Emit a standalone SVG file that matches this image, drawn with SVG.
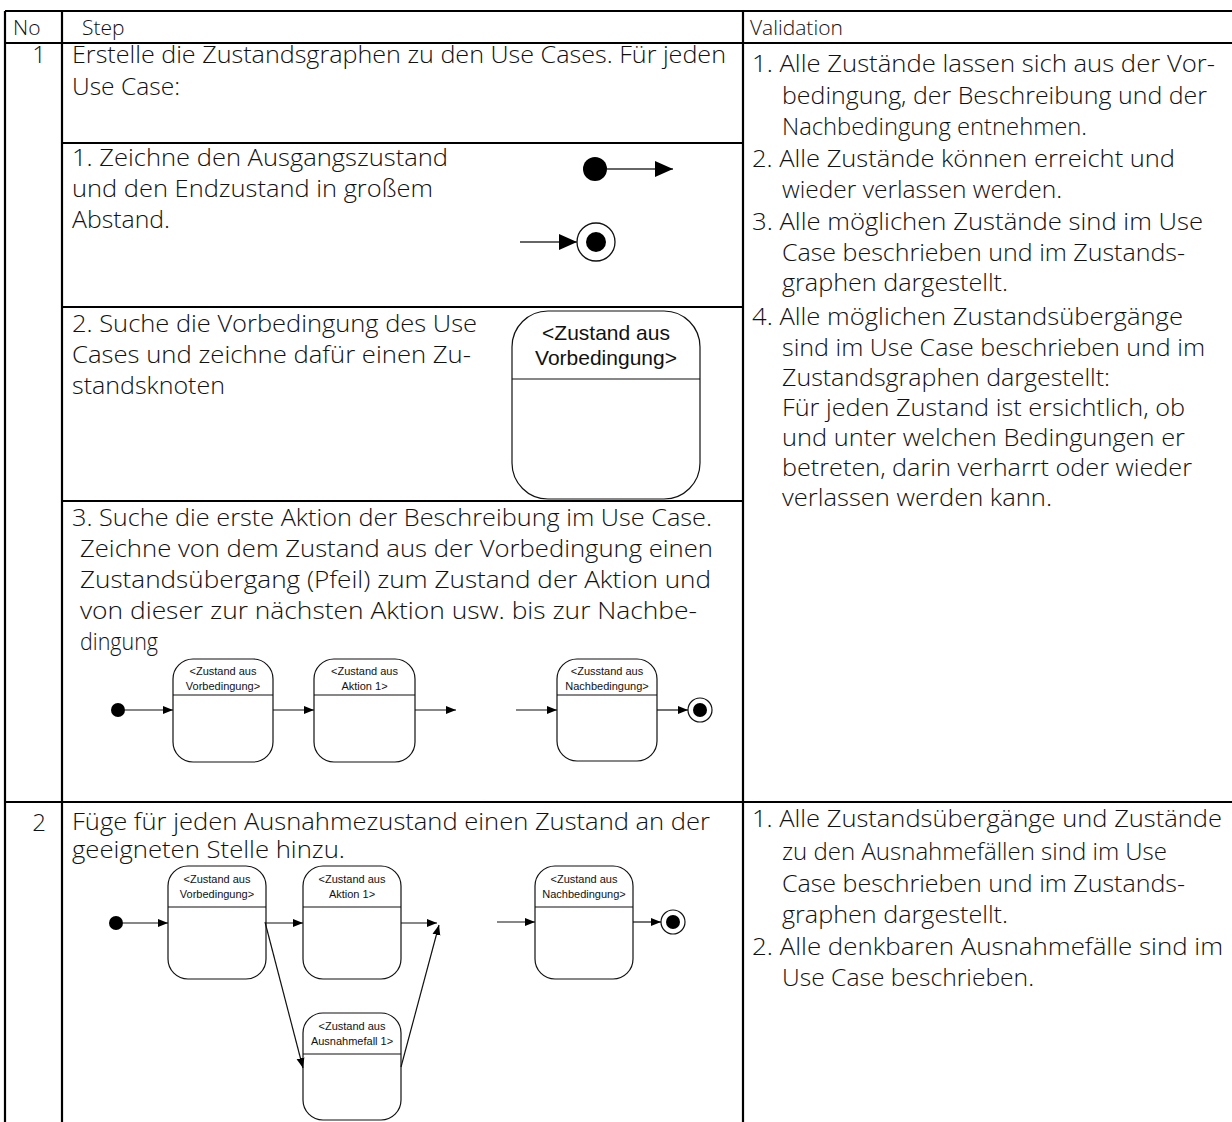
<svg xmlns="http://www.w3.org/2000/svg" width="1232" height="1122" viewBox="0 0 1232 1122">
<style>
.grid{stroke:#000;stroke-width:2.2;fill:none}
.t{font-family:"Open Sans",Lato,"DejaVu Sans",sans-serif;font-size:24px;fill:#111;font-weight:300}
.h{font-family:"Open Sans",Lato,"DejaVu Sans",sans-serif;font-size:21px;fill:#111;font-weight:300}
.st{fill:#fff;stroke:#111;stroke-width:1.2}
.dv{stroke:#111;stroke-width:1.2}
.n{font-family:"Liberation Sans",Arial,sans-serif;font-size:11px;fill:#111;text-anchor:middle}
.nb{font-family:"Liberation Sans",Arial,sans-serif;font-size:21px;fill:#111;text-anchor:middle}
.c{stroke:#111;stroke-width:1.2;fill:none}
.cb{stroke:#333;stroke-width:1.5;fill:none}
</style>
<defs>
<marker id="a" markerUnits="userSpaceOnUse" markerWidth="10" markerHeight="10" viewBox="0 0 10 10" refX="10" refY="5" orient="auto"><path d="M0,1 L10,5 L0,9 Z" fill="#000"/></marker>
<marker id="A" markerUnits="userSpaceOnUse" markerWidth="18" markerHeight="18" viewBox="0 0 18 18" refX="18" refY="9" orient="auto"><path d="M0,1 L18,9 L0,17 Z" fill="#000"/></marker>
</defs>
<rect width="1232" height="1122" fill="#fff"/>
<g id="table">
<line class="grid" x1="5" y1="11" x2="1232" y2="11"/>
<line class="grid" x1="5" y1="43" x2="1232" y2="43"/>
<line class="grid" x1="5" y1="11" x2="5" y2="1122"/>
<line class="grid" x1="62" y1="11" x2="62" y2="1122"/>
<line class="grid" x1="743" y1="11" x2="743" y2="1122"/>
<line class="grid" x1="62" y1="143" x2="743" y2="143"/>
<line class="grid" x1="62" y1="307" x2="743" y2="307"/>
<line class="grid" x1="62" y1="501" x2="743" y2="501"/>
<line class="grid" x1="5" y1="802" x2="1232" y2="802"/>
</g>
<g id="header">
<text class="h" x="13" y="35">No</text>
<text class="h" x="82" y="35">Step</text>
<text class="h" x="750" y="35">Validation</text>
</g>
<g id="row1-step">
<text class="t" x="39" y="63" text-anchor="middle">1</text>
<text class="t" x="72" y="63" textLength="654" lengthAdjust="spacingAndGlyphs">Erstelle die Zustandsgraphen zu den Use Cases. Für jeden</text>
<text class="t" x="72" y="95" textLength="108" lengthAdjust="spacingAndGlyphs">Use Case:</text>
<text class="t" x="72" y="166" textLength="376" lengthAdjust="spacingAndGlyphs">1. Zeichne den Ausgangszustand</text>
<text class="t" x="72" y="197" textLength="361" lengthAdjust="spacingAndGlyphs">und den Endzustand in großem</text>
<text class="t" x="72" y="228" textLength="98" lengthAdjust="spacingAndGlyphs">Abstand.</text>
<text class="t" x="72" y="332" textLength="405" lengthAdjust="spacingAndGlyphs">2. Suche die Vorbedingung des Use</text>
<text class="t" x="72" y="363" textLength="399" lengthAdjust="spacingAndGlyphs">Cases und zeichne dafür einen Zu-</text>
<text class="t" x="72" y="394" textLength="153" lengthAdjust="spacingAndGlyphs">standsknoten</text>
<text class="t" x="72" y="526" textLength="640" lengthAdjust="spacingAndGlyphs">3. Suche die erste Aktion der Beschreibung im Use Case.</text>
<text class="t" x="80" y="557" textLength="633" lengthAdjust="spacingAndGlyphs">Zeichne von dem Zustand aus der Vorbedingung einen</text>
<text class="t" x="80" y="588" textLength="631" lengthAdjust="spacingAndGlyphs">Zustandsübergang (Pfeil) zum Zustand der Aktion und</text>
<text class="t" x="80" y="619" textLength="617" lengthAdjust="spacingAndGlyphs">von dieser zur nächsten Aktion usw. bis zur Nachbe-</text>
<text class="t" x="80" y="650" textLength="78" lengthAdjust="spacingAndGlyphs">dingung</text>
</g>
<g id="row1-validation">
<text class="t" x="752" y="72" textLength="463" lengthAdjust="spacingAndGlyphs">1. Alle Zustände lassen sich aus der Vor-</text>
<text class="t" x="782" y="104" textLength="425" lengthAdjust="spacingAndGlyphs">bedingung, der Beschreibung und der</text>
<text class="t" x="782" y="135" textLength="305" lengthAdjust="spacingAndGlyphs">Nachbedingung entnehmen.</text>
<text class="t" x="752" y="167" textLength="423" lengthAdjust="spacingAndGlyphs">2. Alle Zustände können erreicht und</text>
<text class="t" x="782" y="198" textLength="280" lengthAdjust="spacingAndGlyphs">wieder verlassen werden.</text>
<text class="t" x="752" y="230" textLength="451" lengthAdjust="spacingAndGlyphs">3. Alle möglichen Zustände sind im Use</text>
<text class="t" x="782" y="261" textLength="403" lengthAdjust="spacingAndGlyphs">Case beschrieben und im Zustands-</text>
<text class="t" x="782" y="291" textLength="226" lengthAdjust="spacingAndGlyphs">graphen dargestellt.</text>
<text class="t" x="752" y="325" textLength="431" lengthAdjust="spacingAndGlyphs">4. Alle möglichen Zustandsübergänge</text>
<text class="t" x="782" y="356" textLength="423" lengthAdjust="spacingAndGlyphs">sind im Use Case beschrieben und im</text>
<text class="t" x="782" y="386" textLength="328" lengthAdjust="spacingAndGlyphs">Zustandsgraphen dargestellt:</text>
<text class="t" x="782" y="416" textLength="403" lengthAdjust="spacingAndGlyphs">Für jeden Zustand ist ersichtlich, ob</text>
<text class="t" x="782" y="446" textLength="403" lengthAdjust="spacingAndGlyphs">und unter welchen Bedingungen er</text>
<text class="t" x="782" y="476" textLength="410" lengthAdjust="spacingAndGlyphs">betreten, darin verharrt oder wieder</text>
<text class="t" x="782" y="506" textLength="270" lengthAdjust="spacingAndGlyphs">verlassen werden kann.</text>
</g>
<g id="row2-step">
<text class="t" x="39" y="831" text-anchor="middle">2</text>
<text class="t" x="72" y="830" textLength="638" lengthAdjust="spacingAndGlyphs">Füge für jeden Ausnahmezustand einen Zustand an der</text>
<text class="t" x="72" y="858" textLength="273" lengthAdjust="spacingAndGlyphs">geeigneten Stelle hinzu.</text>
</g>
<g id="row2-validation">
<text class="t" x="752" y="827" textLength="470" lengthAdjust="spacingAndGlyphs">1. Alle Zustandsübergänge und Zustände</text>
<text class="t" x="782" y="860" textLength="385" lengthAdjust="spacingAndGlyphs">zu den Ausnahmefällen sind im Use</text>
<text class="t" x="782" y="892" textLength="403" lengthAdjust="spacingAndGlyphs">Case beschrieben und im Zustands-</text>
<text class="t" x="782" y="923" textLength="226" lengthAdjust="spacingAndGlyphs">graphen dargestellt.</text>
<text class="t" x="752" y="955" textLength="471" lengthAdjust="spacingAndGlyphs">2. Alle denkbaren Ausnahmefälle sind im</text>
<text class="t" x="782" y="986" textLength="252" lengthAdjust="spacingAndGlyphs">Use Case beschrieben.</text>
</g>
<g id="legend-initial"><circle cx="595" cy="169" r="12" fill="#000"/></g>
<g id="legend-final"><circle cx="596" cy="242" r="19" fill="#fff" stroke="#111" stroke-width="1.3"/><circle cx="596" cy="242" r="10" fill="#000"/></g>
<g id="node-big"><rect class="st" x="512" y="311" width="188" height="188" rx="36"/><line class="dv" x1="512" y1="379" x2="700" y2="379"/><text class="nb" x="606" y="340">&lt;Zustand aus</text><text class="nb" x="606" y="365">Vorbedingung&gt;</text></g>
<g id="d1-initial"><circle cx="118" cy="710" r="7" fill="#000"/></g>
<g id="d1-vor"><rect class="st" x="173" y="659" width="100" height="103" rx="20"/><line class="dv" x1="173" y1="695" x2="273" y2="695"/><text class="n" x="223" y="675">&lt;Zustand aus</text><text class="n" x="223" y="690">Vorbedingung&gt;</text></g>
<g id="d1-akt"><rect class="st" x="314" y="659" width="101" height="103" rx="20"/><line class="dv" x1="314" y1="695" x2="415" y2="695"/><text class="n" x="364.5" y="675">&lt;Zustand aus</text><text class="n" x="364.5" y="690">Aktion 1&gt;</text></g>
<g id="d1-nach"><rect class="st" x="557" y="659" width="100" height="102" rx="20"/><line class="dv" x1="557" y1="695" x2="657" y2="695"/><text class="n" x="607" y="675">&lt;Zusstand aus</text><text class="n" x="607" y="690">Nachbedingung&gt;</text></g>
<g id="d1-final"><circle cx="700" cy="710" r="12" fill="#fff" stroke="#111" stroke-width="1.2"/><circle cx="700" cy="710" r="7" fill="#000"/></g>
<g id="d2-initial"><circle cx="116" cy="923" r="7" fill="#000"/></g>
<g id="d2-vor"><rect class="st" x="168" y="866" width="98" height="113" rx="20"/><line class="dv" x1="168" y1="907" x2="266" y2="907"/><text class="n" x="217" y="883">&lt;Zustand aus</text><text class="n" x="217" y="898">Vorbedingung&gt;</text></g>
<g id="d2-akt"><rect class="st" x="303" y="866" width="98" height="113" rx="20"/><line class="dv" x1="303" y1="907" x2="401" y2="907"/><text class="n" x="352" y="883">&lt;Zustand aus</text><text class="n" x="352" y="898">Aktion 1&gt;</text></g>
<g id="d2-nach"><rect class="st" x="535" y="866" width="98" height="113" rx="20"/><line class="dv" x1="535" y1="907" x2="633" y2="907"/><text class="n" x="584" y="883">&lt;Zustand aus</text><text class="n" x="584" y="898">Nachbedingung&gt;</text></g>
<g id="d2-ausn"><rect class="st" x="303" y="1013" width="98" height="107" rx="20"/><line class="dv" x1="303" y1="1054" x2="401" y2="1054"/><text class="n" x="352" y="1030">&lt;Zustand aus</text><text class="n" x="352" y="1045">Ausnahmefall 1&gt;</text></g>
<g id="d2-final"><circle cx="673" cy="922" r="12" fill="#fff" stroke="#111" stroke-width="1.2"/><circle cx="673" cy="922" r="7" fill="#000"/></g>
<g id="connectors">
<line class="cb" x1="607" y1="169" x2="673" y2="169" marker-end="url(#A)"/>
<line class="cb" x1="520" y1="242" x2="577" y2="242" marker-end="url(#A)"/>
<line class="c" x1="125" y1="710" x2="173" y2="710" marker-end="url(#a)"/>
<line class="c" x1="273" y1="710" x2="314" y2="710" marker-end="url(#a)"/>
<line class="c" x1="415" y1="710" x2="456" y2="710" marker-end="url(#a)"/>
<line class="c" x1="516" y1="710" x2="557" y2="710" marker-end="url(#a)"/>
<line class="c" x1="657" y1="710" x2="688" y2="710" marker-end="url(#a)"/>
<line class="c" x1="123" y1="923" x2="168" y2="923" marker-end="url(#a)"/>
<line class="c" x1="266" y1="923" x2="303" y2="923" marker-end="url(#a)"/>
<line class="c" x1="401" y1="923" x2="437" y2="923" marker-end="url(#a)"/>
<line class="c" x1="265" y1="922" x2="303" y2="1068" marker-end="url(#a)"/>
<line class="c" x1="401" y1="1067" x2="439" y2="925" marker-end="url(#a)"/>
<line class="c" x1="497" y1="922" x2="535" y2="922" marker-end="url(#a)"/>
<line class="c" x1="633" y1="922" x2="661" y2="922" marker-end="url(#a)"/>
</g>
</svg>
